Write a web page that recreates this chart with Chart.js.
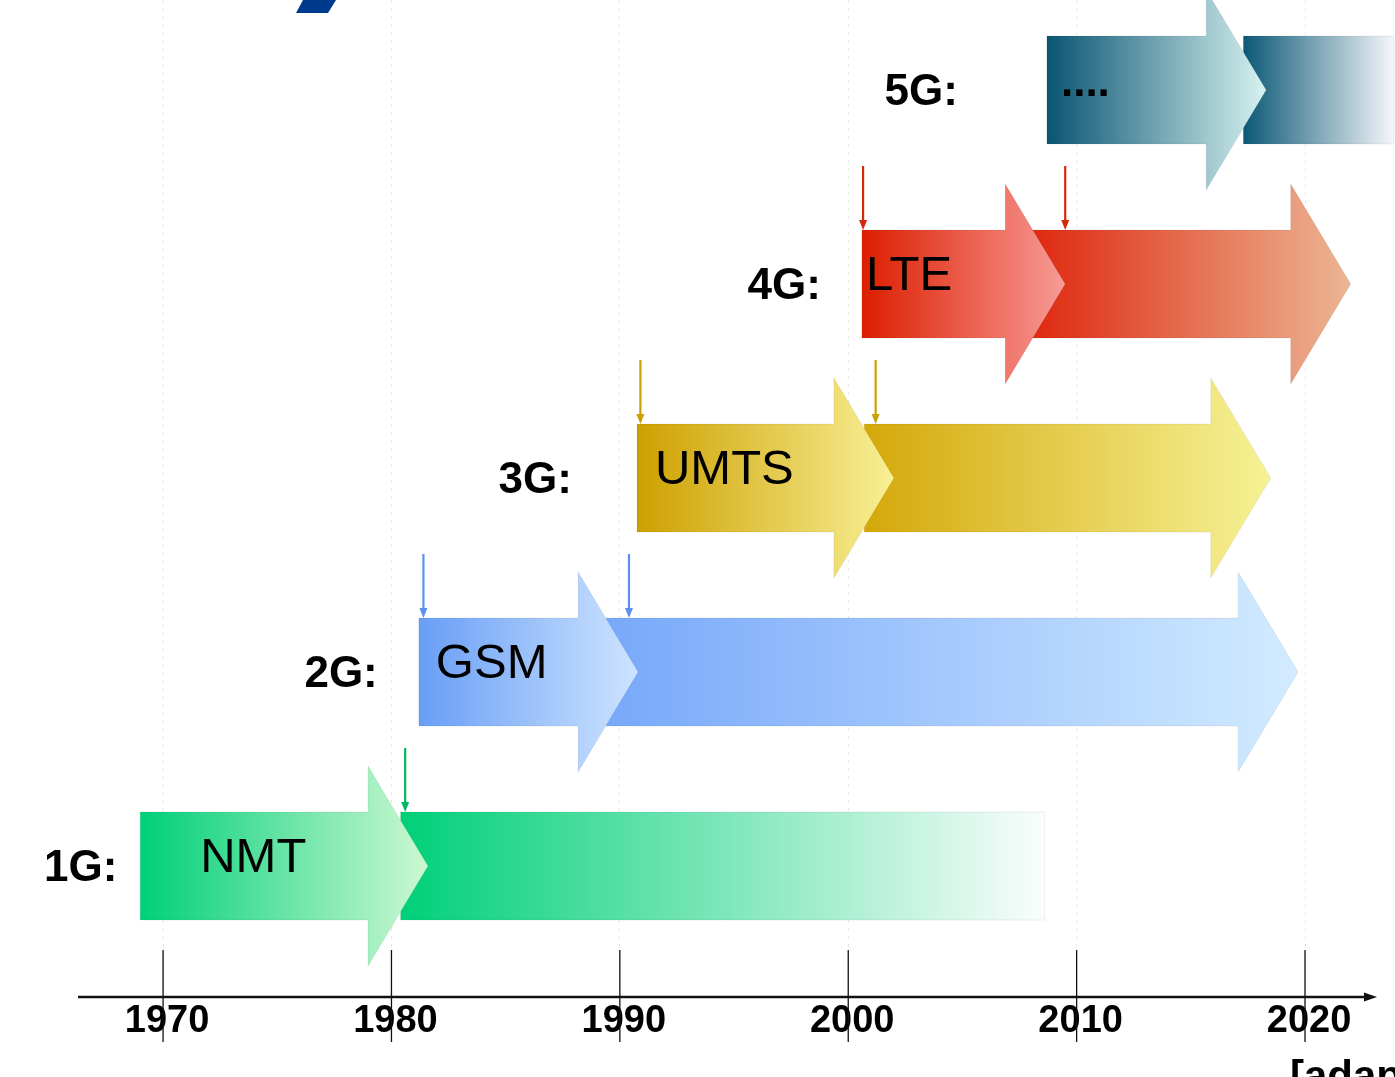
<!DOCTYPE html>
<html>
<head>
<meta charset="utf-8">
<script src="https://cdn.jsdelivr.net/npm/chart.js@4.4.1/dist/chart.umd.min.js"></script>
<style>
  html, body { margin: 0; padding: 0; background: #fff; }
  #wrap { width: 1395px; height: 1077px; position: relative; }
</style>
</head>
<body>
<div id="wrap"><canvas id="timeline"></canvas></div>
<script>
const decadeTicks = [1970, 1980, 1990, 2000, 2010, 2020];
const generations = ["1G:", "2G:", "3G:", "4G:", "5G:"];
const technologies = ["NMT", "GSM", "UMTS", "LTE", "...."];
const rowLevels = [1, 2, 3, 4, 5];
// where each generation label ends (years)
const labelYears = [1968.0, 1979.4, 1987.9, 1998.8, 2004.8];
// first arrow of each generation
const firstStart = [1969.0, 1981.2, 1990.75, 2000.6, 2008.7];
const firstTip = [1981.6, 1990.8, 2002.0, 2009.5, 2018.3];
// second, longer phase
const secondStart = [1980.4, 1989.4, 2000.7, 2008.0, 2017.3];
const secondEnd = [2008.6, 2019.7, 2018.5, 2022.0, 2023.9];
const secondHasHead = [false, true, true, true, false];
const markerYears = [[1980.6], [1981.4, 1990.4], [1990.9, 2001.2], [2000.65, 2009.5], []];

const FONT = "'Liberation Sans', Arial, sans-serif";
const fromColors = ["rgb(0,208,120)", "rgb(105,158,245)", "rgb(205,160,0)", "rgb(220,30,0)", "rgb(10,85,115)"];
const firstToColors = ["rgb(205,248,210)", "rgb(205,228,255)", "rgb(248,240,150)", "rgb(248,155,150)", "rgb(215,242,240)"];
const secondFromColors = ["rgb(0,208,120)", "rgb(120,168,250)", "rgb(212,168,10)", "rgb(222,40,15)", "rgb(12,88,118)"];
const secondToColors = ["rgb(250,253,252)", "rgb(210,235,255)", "rgb(246,242,150)", "rgb(236,182,148)", "rgb(245,247,250)"];
const markerColors = ["#00b860", "#5b90f0", "#c9a000", "#d42a0a"];
const techDx = [60, 17, 18, 4, 14];

const SHAFT = 54, HEAD = 100, HEADLEN = 60;

function arrow(ctx, x0, x1, yc, hasHead, c0, c1) {
    const g = ctx.createLinearGradient(x0, 0, x1, 0);
    g.addColorStop(0, c0);
    g.addColorStop(1, c1);
    ctx.beginPath();
    if (hasHead) {
        const hx = x1 - HEADLEN;
        ctx.moveTo(x0, yc - SHAFT);
        ctx.lineTo(hx, yc - SHAFT);
        ctx.lineTo(hx, yc - HEAD);
        ctx.lineTo(x1, yc);
        ctx.lineTo(hx, yc + HEAD);
        ctx.lineTo(hx, yc + SHAFT);
        ctx.lineTo(x0, yc + SHAFT);
    } else {
        ctx.rect(x0, yc - SHAFT, x1 - x0, SHAFT * 2);
    }
    ctx.closePath();
    ctx.fillStyle = g;
    ctx.fill();
    ctx.strokeStyle = "rgba(0,0,0,0.06)";
    ctx.lineWidth = 1;
    ctx.stroke();
}

const arrowsPlugin = {
    id: "arrows",
    beforeDatasetsDraw(chart) {
        const ctx = chart.ctx, x = chart.scales.x, y = chart.scales.y;
        ctx.save();
        rowLevels.forEach((lvl, i) => {
            const yc = y.getPixelForValue(lvl);
            arrow(ctx, x.getPixelForValue(secondStart[i]), x.getPixelForValue(secondEnd[i]), yc,
                secondHasHead[i], secondFromColors[i], secondToColors[i]);
            arrow(ctx, x.getPixelForValue(firstStart[i]), x.getPixelForValue(firstTip[i]), yc,
                true, fromColors[i], firstToColors[i]);

            // small markers
            markerYears[i].forEach(yr => {
                const mx = x.getPixelForValue(yr), tip = yc - SHAFT;
                ctx.strokeStyle = markerColors[i];
                ctx.fillStyle = markerColors[i];
                ctx.lineWidth = 2.2;
                ctx.beginPath();
                ctx.moveTo(mx, tip - 64);
                ctx.lineTo(mx, tip - 8);
                ctx.stroke();
                ctx.beginPath();
                ctx.moveTo(mx - 4, tip - 10);
                ctx.lineTo(mx + 4, tip - 10);
                ctx.lineTo(mx, tip);
                ctx.closePath();
                ctx.fill();
            });

            // labels
            ctx.fillStyle = "#000";
            ctx.textBaseline = "middle";
            ctx.textAlign = "right";
            ctx.font = "bold 44px " + FONT;
            ctx.fillText(generations[i], x.getPixelForValue(labelYears[i]), yc + 3);

            ctx.textAlign = "left";
            ctx.textBaseline = "alphabetic";
            ctx.font = (i === 4 ? "bold 44px " : "49px ") + FONT;
            ctx.fillText(technologies[i], x.getPixelForValue(firstStart[i]) + techDx[i], yc + 6);
        });
        ctx.restore();
    },
    afterDraw(chart) {
        const ctx = chart.ctx, x = chart.scales.x;
        const axisY = chart.chartArea.bottom;
        ctx.save();
        // axis line with arrow
        ctx.strokeStyle = "#111";
        ctx.fillStyle = "#111";
        ctx.lineWidth = 2.5;
        ctx.beginPath();
        ctx.moveTo(78, axisY);
        ctx.lineTo(1366, axisY);
        ctx.stroke();
        ctx.beginPath();
        ctx.moveTo(1377, axisY);
        ctx.lineTo(1364, axisY - 4.5);
        ctx.lineTo(1364, axisY + 4.5);
        ctx.closePath();
        ctx.fill();
        // decade ticks
        ctx.lineWidth = 1.3;
        decadeTicks.forEach(v => {
            const px = x.getPixelForValue(v);
            ctx.beginPath();
            ctx.moveTo(px, axisY - 47);
            ctx.lineTo(px, axisY + 45);
            ctx.stroke();
        });
        // logo fragment top left
        ctx.fillStyle = "#003a8c";
        ctx.beginPath();
        ctx.moveTo(296, 13);
        ctx.lineTo(328, 13);
        ctx.lineTo(336, 0);
        ctx.lineTo(303, 0);
        ctx.closePath();
        ctx.fill();
        // source note, cut by the page edge
        ctx.fillStyle = "#000";
        ctx.font = "bold 42px " + FONT;
        ctx.textAlign = "left";
        ctx.textBaseline = "alphabetic";
        ctx.fillText("[adapted from", 1290, 1090);
        ctx.restore();
    }
};

new Chart(document.getElementById("timeline"), {
    type: "scatter",
    data: {
        datasets: [{
            data: firstStart.map((v, i) => ({ x: v, y: rowLevels[i] })),
            pointRadius: 0
        }]
    },
    options: {
        responsive: true,
        maintainAspectRatio: false,
        animation: false,
        layout: { padding: 0 },
        plugins: { legend: { display: false }, tooltip: { enabled: false } },
        scales: {
            x: {
                type: "linear",
                min: 1962.86,
                max: 2023.94,
                afterBuildTicks: s => { s.ticks = decadeTicks.map(v => ({ value: v })); },
                afterFit: s => { s.height = 80; },
                border: { display: false, dash: [3, 5] },
                grid: { color: "rgba(0,0,0,0.10)", drawTicks: false },
                ticks: {
                    color: "#000",
                    padding: 2,
                    labelOffset: 4,
                    font: { family: FONT, size: 38, weight: "bold" },
                    callback: v => String(v)
                }
            },
            y: { type: "linear", display: false, min: 0.325, max: 5.464 }
        }
    },
    plugins: [arrowsPlugin]
});
</script>
</body>
</html>
